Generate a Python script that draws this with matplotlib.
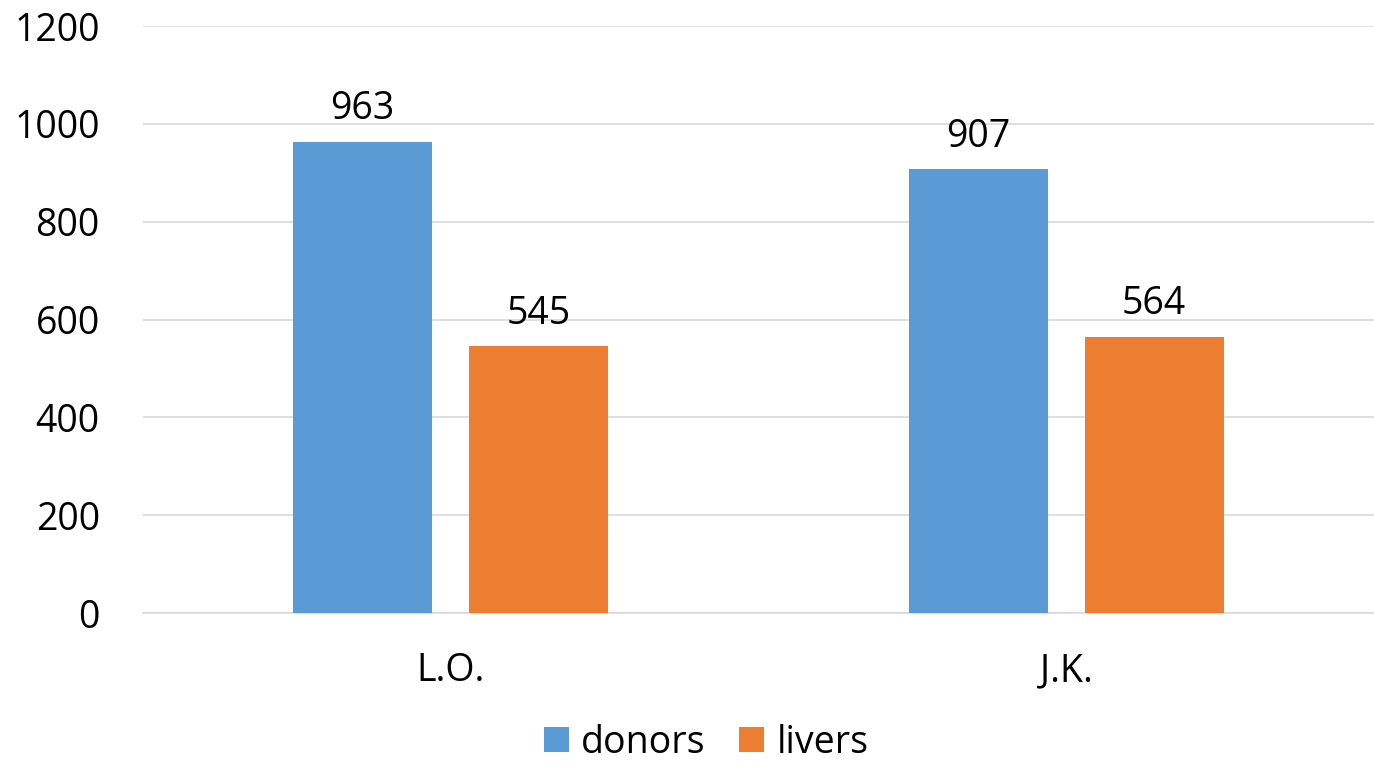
import matplotlib
matplotlib.use("Agg")
import matplotlib.pyplot as plt
import numpy as np

categories = ["L.O.", "J.K."]
donors = [963, 907]
livers = [545, 564]

BLUE = "#5B9BD5"
ORANGE = "#ED7D31"
GRID = "#D9D9D9"
TEXT = "#000000"
FS = 27

plt.rcParams["font.family"] = ["Open Sans", "DejaVu Sans"]

fig = plt.figure(figsize=(13.74, 7.68), dpi=100)
ax = fig.add_axes([0.104, 0.2018, 0.896, 0.7642])

x = np.arange(len(categories))
w = 0.226
off = 0.143
b1 = ax.bar(x - off, donors, w, color=BLUE, label="donors", zorder=3)
b2 = ax.bar(x + off, livers, w, color=ORANGE, label="livers", zorder=3)

for bars, vals in ((b1, donors), (b2, livers)):
    for bar, v in zip(bars, vals):
        ax.text(bar.get_x() + bar.get_width() / 2, v + 28, f"{v}",
                ha="center", va="bottom", fontsize=FS, color=TEXT)

ax.set_xlim(-0.5, 1.5)
ax.set_ylim(0, 1200)
ax.set_yticks(range(0, 1201, 200))
ax.set_xticks(x)
ax.set_xticklabels(categories)
ax.tick_params(axis="both", length=0, labelsize=FS, colors=TEXT)
ax.tick_params(axis="x", pad=28)
ax.tick_params(axis="y", pad=31)
ax.grid(axis="y", color=GRID, linewidth=1.2, zorder=0)
for s in ("top", "right", "left"):
    ax.spines[s].set_visible(False)
ax.spines["bottom"].set_color(GRID)
ax.spines["bottom"].set_linewidth(1.2)

fig.legend(handles=[b1, b2], loc="center", bbox_to_anchor=(0.514, 0.033),
           ncol=2, frameon=False, fontsize=FS, handlelength=0.67,
           handleheight=0.67, handletextpad=0.32, columnspacing=0.9)

fig.savefig("out.png", dpi=100)
